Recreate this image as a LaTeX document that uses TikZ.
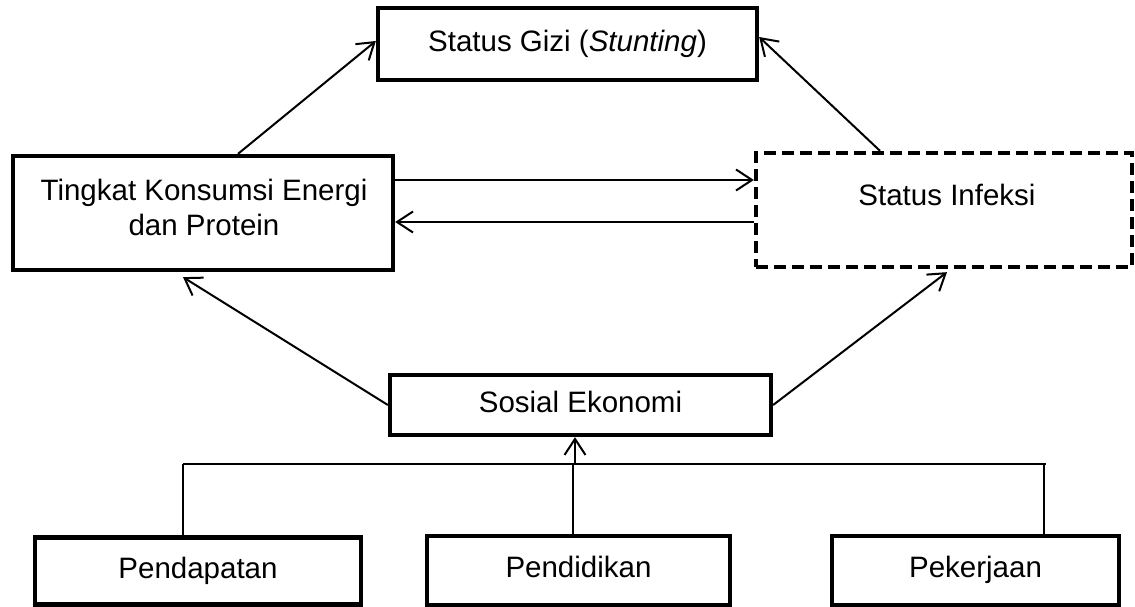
\documentclass[tikz,border=0pt]{standalone}
\usepackage{fontspec}
\setmainfont{Liberation Sans}
\usetikzlibrary{arrows.meta}
\newcommand{\teks}{\fontsize{29.5}{35}\selectfont}
\tikzset {kotak/.style 2 args={draw, line width=4.3pt, minimum width=#1,
            minimum height=#2, inner sep=0pt, font=\teks,
            text height=21pt, text depth=6.5pt}}
\tikzset {putus/.style={dash pattern=on 12pt off 6pt}}
\tikzset {panah/.style={line width=2pt, -{Straight Barb[length=16pt,width=21pt]}}}
\tikzset {garis/.style={line width=1.3pt}}

\begin{document}
\begin{tikzpicture}[x=1pt,y=-1pt]
  \useasboundingbox (0,0) rectangle (1135,607);
  \node [kotak={379pt}{72pt}] (gizi) at (567.5,44) {Status Gizi (\textit{Stunting})};
  \node [kotak={380pt}{114pt}] (tingkat) at (203,213) {};
  \node [align=center, font=\teks] (tingkat-teks) at (204,207)
    {Tingkat Konsumsi Energi\\dan Protein};
  \node [kotak={376pt}{114pt}, putus] (infeksi) at (944,210) {};
  \node [font=\teks] (infeksi-teks) at (947,195) {Status Infeksi};
  \node [kotak={381pt}{60pt}] (sosial) at (580.5,405) {Sosial Ekonomi};
  \node [kotak={326pt}{67pt}] (pendapatan) at (198,571) {Pendapatan};
  \node [kotak={303pt}{69pt}] (pendidikan) at (578.5,570.5) {Pendidikan};
  \node [kotak={287pt}{69pt}] (pekerjaan) at (975.5,570.5) {Pekerjaan};
  \coordinate (busL) at (183,464);
  \coordinate (busM) at (575,464);
  \coordinate (busR) at (1044,464);
  \draw [panah] ([xshift=35pt]tingkat.north) -- ([yshift=3pt]gizi.west);
  \draw [panah] ([xshift=-64pt]infeksi.north) -- ([yshift=7pt]gizi.east);
  \draw [panah] ([yshift=33pt]tingkat.east) -- ([yshift=33pt]tingkat.east -| infeksi.west);
  \draw [panah] ([yshift=-9pt]tingkat.east -| infeksi.west) -- ([yshift=-9pt]tingkat.east);
  \draw [panah] (sosial.west) -- ([xshift=-20pt,yshift=-5pt]tingkat.south);
  \draw [panah] (sosial.east) -- ([xshift=3pt,yshift=-3pt]infeksi.south);
  \draw [garis] (busL) -- ([xshift=2pt]busR);
  \draw [garis] (busL) -- (busL |- pendapatan.north);
  \draw [garis] ([xshift=-2pt]busM |- pendidikan.north) -- ([xshift=-2pt]busM);
  \draw [garis] (busR) -- (busR |- pekerjaan.north);
  \draw [panah] (busM) -- (busM |- sosial.south);
\end{tikzpicture}
\end{document}
